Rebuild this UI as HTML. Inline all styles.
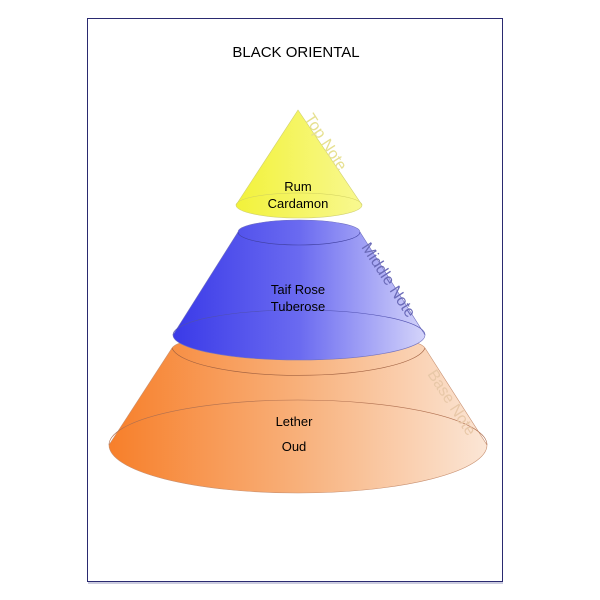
<!DOCTYPE html>
<html><head><style>body{margin:0;background:#fff}svg{display:block}</style></head><body>
<svg width="600" height="600" viewBox="0 0 600 600" font-family="Liberation Sans, sans-serif">
<defs>
<linearGradient id="y" x1="0" x2="1"><stop offset="0" stop-color="#f2f23a"/><stop offset="1" stop-color="#f8f890"/></linearGradient>
<linearGradient id="b" x1="0" x2="1"><stop offset="0" stop-color="#3a3ae8"/><stop offset="0.5" stop-color="#6a6af0"/><stop offset="1" stop-color="#d4d4fa"/></linearGradient>
<linearGradient id="o" x1="0" x2="1"><stop offset="0" stop-color="#f77f2a"/><stop offset="0.5" stop-color="#f8b07a"/><stop offset="1" stop-color="#fbe6d6"/></linearGradient>
</defs>
<rect x="87.5" y="18.5" width="415" height="563" fill="#fff" stroke="#2a2a70" stroke-width="1"/>
<line x1="88" y1="583" x2="503" y2="583" stroke="#9a9ac0"/>
<text x="296" y="57" font-size="15" text-anchor="middle">BLACK ORIENTAL</text>
<!-- orange -->
<path d="M172,348 A127,18 0 0 1 425,348 L487,445 A189,48 0 0 1 109,445 Z" fill="url(#o)" stroke="#c89070" stroke-width="0.6"/>
<path d="M172,348 A127,30 0 0 0 425,348" fill="none" stroke="#a06040" stroke-width="0.6"/>
<path d="M109,445 A189,45 0 0 1 487,445" fill="none" stroke="#b07050" stroke-width="0.6"/>
<!-- blue -->
<path d="M238,232 A61,12 0 0 1 360,232 L425,335 A126,25 0 0 1 173,335 Z" fill="url(#b)" stroke="#7070c0" stroke-width="0.6"/>
<path d="M238,232 A61,13 0 0 0 360,232" fill="none" stroke="#4040a0" stroke-width="0.6"/>
<path d="M173,335 A126,25 0 0 1 425,335" fill="none" stroke="#5050b0" stroke-width="0.6"/>
<!-- yellow -->
<path d="M298,110 L236,205 A63,13 0 0 0 362,205 Z" fill="url(#y)" stroke="#d0d070" stroke-width="0.6"/>
<path d="M236,205 A63,12 0 0 1 362,205" fill="none" stroke="#d0d060" stroke-width="0.5"/>
<g font-size="13" text-anchor="middle">
<text x="298" y="191">Rum</text><text x="298" y="208">Cardamon</text>
<text x="298" y="294">Taif Rose</text><text x="298" y="311">Tuberose</text>
<text x="294" y="426">Lether</text><text x="294" y="451">Oud</text>
</g>
<text transform="translate(304,118) rotate(57)" font-size="16" fill="#e6e090">Top Note</text>
<text transform="translate(361,247) rotate(57)" font-size="16" fill="#6a6ab8">Middle Note</text>
<text transform="translate(427,374) rotate(57)" font-size="16" fill="#e8c8a8">Base Note</text>
</svg>
</body></html>
